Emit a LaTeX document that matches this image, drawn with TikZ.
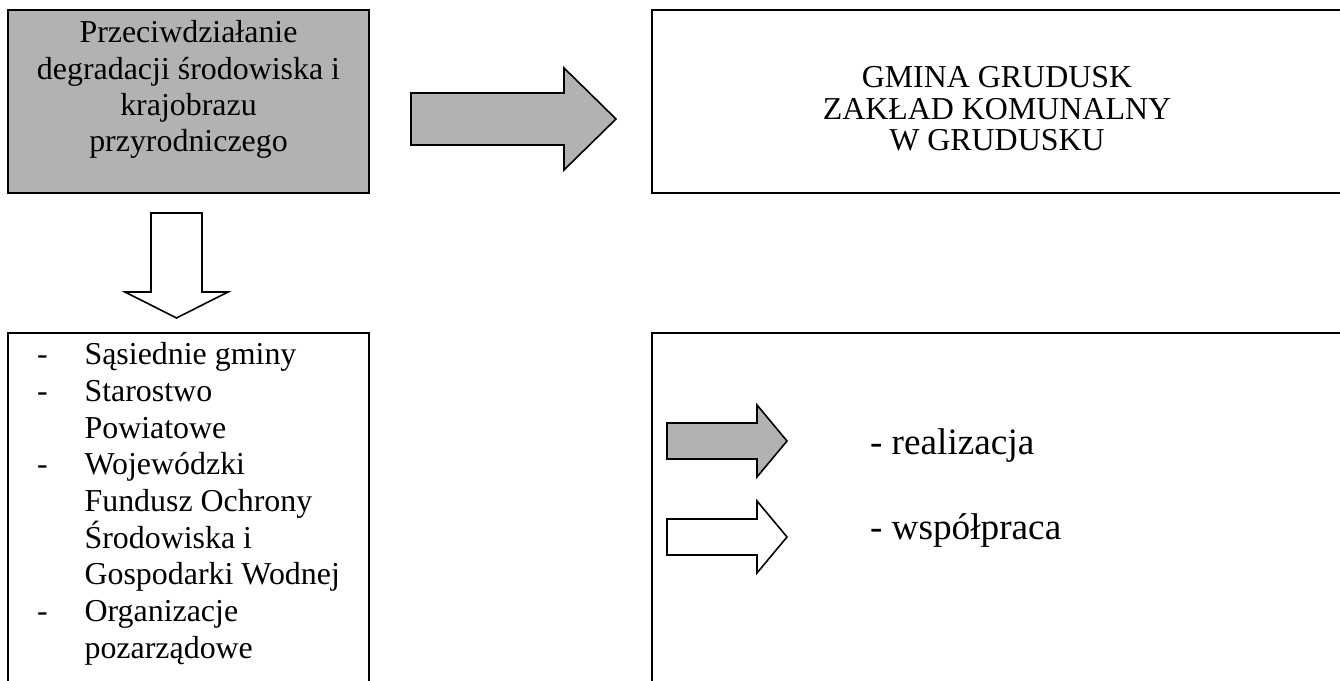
\documentclass[tikz,border=0pt]{standalone}
\usepackage{fontspec}
\setmainfont{Liberation Serif}
\usetikzlibrary{fit}

\tikzset{
  ramka/.style={draw, line width=1pt, inner sep=0pt},
  szary/.style={fill=black!30},
  strzalka/.style={draw, line width=0.6pt, line join=miter},
  tekst/.style={inner sep=0pt, align=center, font=\fontsize{12}{13.7}\selectfont},
  opis/.style={inner sep=0pt, anchor=base west, font=\fontsize{14}{16}\selectfont}
}
\newcommand\mysl{\makebox[17.8pt][l]{-}}
\newcommand\wcz{\hspace*{17.8pt}}

\begin{document}
\begin{tikzpicture}[x=0.376pt, y=-0.376pt]
\useasboundingbox (0,0) rectangle (1340,681);
% ramki
\node[ramka, szary, fit={(8,10) (369,193)}] (cel) {};
\node[ramka, fit={(652,10) (1350,193)}] (gmina) {};
\node[ramka, fit={(8,333) (369,700)}] (partnerzy) {};
\node[ramka, fit={(652,333) (1350,700)}] (legenda) {};
% teksty w ramkach
\node[tekst, anchor=north] (celtxt) at (188.5,20) {Przeciwdziałanie\\degradacji środowiska i\\krajobrazu\\przyrodniczego};
\node[tekst, anchor=north, font=\fontsize{12}{12}\selectfont] (gminatxt) at (997,65.5) {GMINA GRUDUSK\\ZAKŁAD KOMUNALNY\\W GRUDUSKU};
\node[tekst, anchor=north west, align=left, font=\fontsize{12}{13.8}\selectfont] (lista) at (36.7,342)
  {\mysl Sąsiednie gminy\\
   \mysl Starostwo\\
   \wcz Powiatowe\\
   \mysl Wojewódzki\\
   \wcz Fundusz Ochrony\\
   \wcz Środowiska i\\
   \wcz Gospodarki Wodnej\\
   \mysl Organizacje\\
   \wcz pozarządowe};
% strzalki
\draw[strzalka, szary] (411,93) -- (564,93) -- (564,68) -- (616,119) -- (564,170) -- (564,145) -- (411,145) -- cycle;
\draw[strzalka, fill=white] (151,213) -- (202,213) -- (202,292) -- (228,292) -- (176.5,318) -- (125,292) -- (151,292) -- cycle;
\draw[strzalka, szary] (667,423) -- (757,423) -- (757,405) -- (787,441) -- (757,477) -- (757,459) -- (667,459) -- cycle;
\draw[strzalka, fill=white] (667,519) -- (757,519) -- (757,501) -- (787,537) -- (757,573) -- (757,555) -- (667,555) -- cycle;
% legenda
\node[opis] (realizacja) at (869.5,455) {- realizacja};
\node[opis] (wspolpraca) at (869.5,540) {- współpraca};
\end{tikzpicture}
\end{document}
